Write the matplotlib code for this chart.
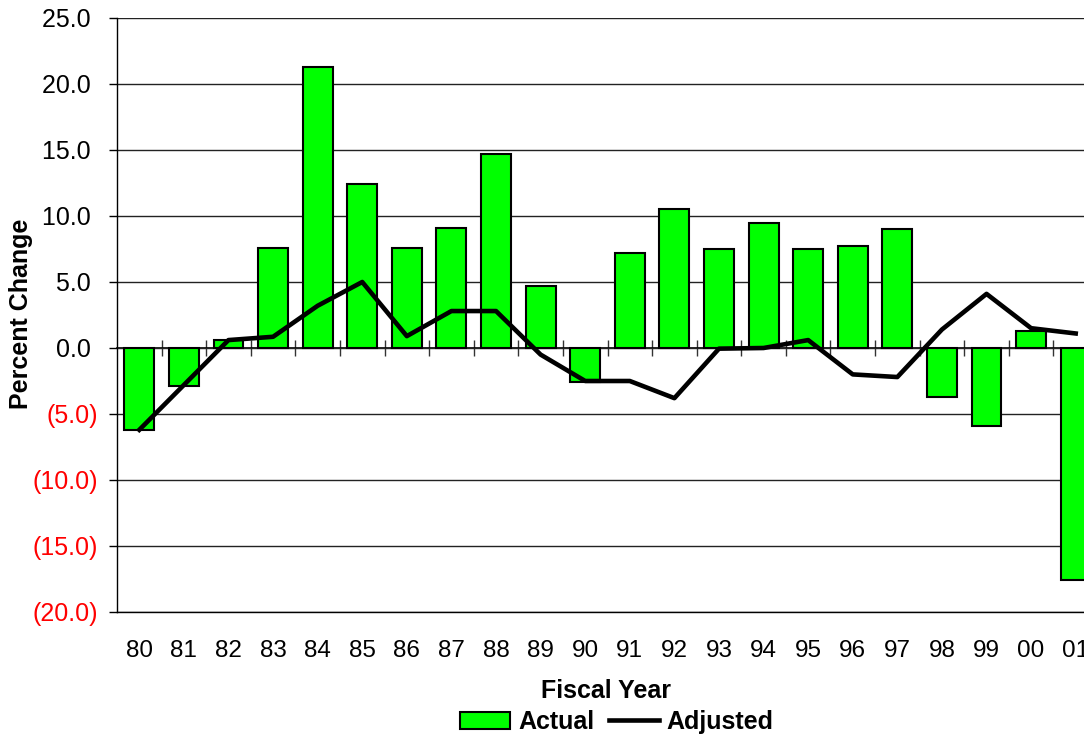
import matplotlib.pyplot as plt
from matplotlib.lines import Line2D
from matplotlib.patches import Patch

plt.rcParams['font.family'] = ['Liberation Sans', 'DejaVu Sans']

years = ['80', '81', '82', '83', '84', '85', '86', '87', '88', '89', '90',
         '91', '92', '93', '94', '95', '96', '97', '98', '99', '00', '01']
actual = [-6.2, -2.9, 0.6, 7.6, 21.3, 12.4, 7.6, 9.1, 14.7, 4.7, -2.6,
          7.2, 10.5, 7.5, 9.5, 7.5, 7.7, 9.0, -3.7, -5.9, 1.3, -17.6]
adjusted = [-6.2, -2.8, 0.6, 0.85, 3.2, 5.0, 0.9, 2.8, 2.8, -0.5, -2.5,
            -2.5, -3.8, -0.05, 0.0, 0.6, -2.0, -2.2, 1.4, 4.1, 1.5, 1.1]
yticks = [25, 20, 15, 10, 5, 0, -5, -10, -15, -20]

ylo, yhi = -20, 25
x = list(range(len(years)))

fig = plt.figure(figsize=(10.84, 7.38), dpi=100)
# the plot runs past the right edge of the picture, as in the original
ax = fig.add_axes([117 / 1084, 126 / 738, 981 / 1084, 594 / 738])

ax.bar(x, actual, width=0.67, color='#00ff00', edgecolor='black',
       linewidth=1.5, zorder=2)
ax.plot(x, adjusted, color='black', linewidth=3.3, zorder=3)

ax.set_xlim(-0.5, len(years) - 0.5)
ax.set_ylim(ylo, yhi)

# excel style "0.0_);(0.0)": positives keep room for the closing paren
ax.set_yticks(yticks)
ax.set_yticklabels([f'{v:.1f} ' if v >= 0 else f'({-v:.1f})' for v in yticks])
for lab, v in zip(ax.get_yticklabels(), yticks):
    if v < 0:
        lab.set_color('red')
ax.tick_params(axis='y', direction='out', length=6, width=1, pad=8,
               labelsize=18)
ax.yaxis.grid(True, color='#222222', linewidth=1)
ax.set_axisbelow(True)

ax.set_xticks(x)
ax.set_xticklabels(years)
ax.tick_params(axis='x', length=0, pad=20, labelsize=17.5)

for s in ['top', 'right']:
    ax.spines[s].set_visible(False)
ax.spines['left'].set_linewidth(1)
ax.spines['bottom'].set_linewidth(1)

# category axis crossing at zero, ticks between categories
zero = ax.secondary_xaxis((0 - ylo) / (yhi - ylo))
zero.set_xticks([i + 0.5 for i in x[:-1]])
zero.set_xticklabels([])
zero.tick_params(direction='inout', length=11, width=1, color='#333333')
zero.spines['bottom'].set_linewidth(1.2)
zero.spines['top'].set_linewidth(1.2)

ax.set_ylabel('Percent Change', fontsize=18, fontweight='bold')
ax.yaxis.set_label_coords(-84 / 981, (738 - 314 - 126) / 594)
fig.text(606 / 1084, 1 - 691 / 738, 'Fiscal Year', fontsize=18,
         fontweight='bold', ha='center', va='center')

handles = [Patch(facecolor='#00ff00', edgecolor='black', linewidth=1.5),
           Line2D([], [], color='black', linewidth=3.3)]
fig.legend(handles, ['Actual', 'Adjusted'], loc='center',
           bbox_to_anchor=(617 / 1084, 1 - 722 / 738), ncol=2, frameon=False,
           prop={'size': 18, 'weight': 'bold'}, handlelength=2.0,
           handleheight=0.7, handletextpad=0.3, columnspacing=0.6,
           borderpad=0)

fig.savefig('out.png', dpi=100)
